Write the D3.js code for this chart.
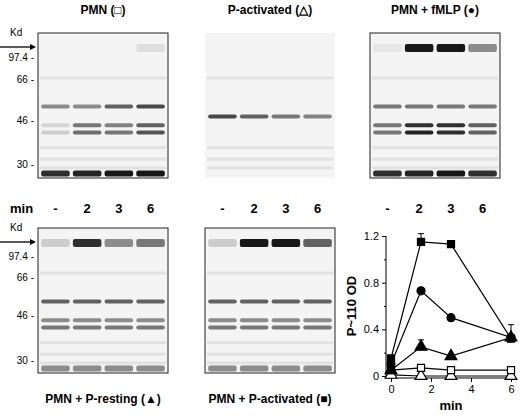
<!DOCTYPE html><html><head><meta charset="utf-8"><script src="https://cdn.jsdelivr.net/npm/d3@7"></script>
<style>body{margin:0;background:#fff}text{font-family:Arial,"Liberation Sans",sans-serif}</style></head><body><svg id="c" width="520" height="416"></svg>
<script>
const times=[0,1.5,3,6];
const fillSq=[0.15,1.15,1.13,0.32];
const circ=[0.10,0.73,0.50,0.33];
const fillTri=[0.05,0.25,0.17,0.33];
const openSq=[0.05,0.07,0.05,0.05];
const openTri=[0.01,0.0,0.0,0.0];
const yTicks=[0,0.4,0.8,1.2];
const yMinor=[0.2,0.6,1.0];
const xTicks=[0,2,4,6];
const laneLabels=["-","2","3","6"];
const kdTicks=["97.4","66","46","30"];
const bandPos=[0.51,0.64,0.69,0.965,0.11];
const gelPanels=[
 {t:"PMN (\u25A1)",x:38,y:33,title:"top",b:[[0.5,0.5,0.7,0.8],[0.15,0.6,0.55,0.7],[0.2,0.65,0.6,0.75],[0.9,0.95,1,1],[0,0,0,0.1]]},
 {t:"P-activated (\u25B3)",x:205,y:33,title:"top",p0:0.58,b:[[0.8,0.7,0.6,0.55],[0,0,0,0],[0,0,0,0],[0,0,0,0],[0,0,0,0]]},
 {t:"PMN + fMLP (\u25CF)",x:370,y:33,title:"top",b:[[0.6,0.6,0.6,0.6],[0.6,0.9,0.9,0.7],[0.6,0.95,0.9,0.7],[0.9,0.95,1,0.9],[0.05,1,1,0.5]]},
 {t:"PMN + P-resting (\u25B2)",x:38,y:228,title:"bot",b:[[0.7,0.7,0.7,0.7],[0.5,0.5,0.5,0.5],[0.6,0.6,0.6,0.6],[0.5,0.5,0.5,0.5],[0.2,0.9,0.5,0.6]]},
 {t:"PMN + P-activated (\u25A0)",x:205,y:228,title:"bot",b:[[0.7,0.7,0.7,0.7],[0.5,0.5,0.5,0.5],[0.6,0.6,0.6,0.6],[0.5,0.5,0.5,0.5],[0.2,1,1,0.7]]}
];
const svg=d3.select("#c");
const W=130,H=145;
const lane=d3.scaleBand().domain(laneLabels).range([0,W]).padding(0.1);
gelPanels.forEach((p,i)=>{
 const g=svg.append("g").attr("transform",`translate(${p.x},${p.y})`);
 g.append("rect").attr("width",W).attr("height",H).attr("fill","#f4f4f4").attr("stroke",i==1?"none":"#222");
 [0.3,0.78,0.86,0.92].forEach(f=>g.append("rect").attr("x",2).attr("width",W-4).attr("y",f*H).attr("height",3).attr("fill","#e2e2e2"));
 p.b.forEach((row,bi)=>row.forEach((v,li)=>{
   if(v<=0)return;
   const pos=(bi==0&&p.p0)?p.p0:bandPos[bi];
   g.append("rect").attr("x",lane(laneLabels[li])).attr("width",lane.bandwidth())
    .attr("y",pos*H-(bi==4?5:2.5)).attr("height",bi==4?8:(bi==3?6:4)).attr("rx",2)
    .attr("fill",d3.interpolateGreys(0.15+v*0.85)).attr("opacity",0.9);
 }));
 const ty=p.title=="top"?p.y-19:p.y+H+30;
 svg.append("text").attr("x",p.x+W/2).attr("y",ty).attr("text-anchor","middle").attr("font-size",12).attr("font-weight","bold").text(p.t);
 if(i==0||i==3){
   const kdY=i==0?[0.165,0.32,0.6,0.9]:[0.19,0.34,0.6,0.91];
   svg.append("text").attr("x",10).attr("y",p.y+3).attr("font-size",10).text("Kd");
   svg.append("line").attr("x1",0).attr("x2",30).attr("y1",p.y+14).attr("y2",p.y+14).attr("stroke","#000").attr("stroke-width",1.3);
   svg.append("path").attr("d",`M30,${p.y+11}L36,${p.y+14}L30,${p.y+17}Z`);
   kdTicks.forEach((k,j)=>svg.append("text").attr("x",p.x-4).attr("y",p.y+kdY[j]*H+4).attr("text-anchor","end").attr("font-size",10).text(k+" -"));
 }
});
svg.append("text").attr("x",10).attr("y",213).attr("font-size",13).attr("font-weight","bold").text("min");
[38,205,370].forEach(x0=>laneLabels.forEach(l=>svg.append("text").attr("x",x0+lane(l)+lane.bandwidth()/2).attr("y",213).attr("text-anchor","middle").attr("font-size",13).attr("font-weight","bold").text(l)));
const x=d3.scaleLinear().domain([0,6]).range([391,511]);
const y=d3.scaleLinear().domain([0,1.2]).range([376,236]);
svg.append("g").attr("transform","translate(0,378)").call(d3.axisBottom(x).tickValues(xTicks).tickFormat(d3.format("d")).tickSize(4)).call(g=>g.selectAll("text").attr("font-size",11)).call(g=>g.select(".domain").attr("d","M386,0H514"));
svg.append("g").attr("transform","translate(386,0)").call(d3.axisLeft(y).tickValues(yTicks).tickFormat(d=>d==0?"0":d3.format(".1f")(d)).tickSize(4)).call(g=>g.selectAll("text").attr("font-size",11)).call(g=>g.select(".domain").attr("d","M0,236V378"));
svg.append("g").attr("transform","translate(386,0)").call(d3.axisLeft(y).tickValues(yMinor).tickFormat("").tickSize(2)).call(g=>g.select(".domain").remove());
svg.append("text").attr("x",451).attr("y",410).attr("text-anchor","middle").attr("font-size",13).attr("font-weight","bold").text("min");
svg.append("text").attr("transform","translate(356,306) rotate(-90)").attr("text-anchor","middle").attr("font-size",13).attr("font-weight","bold").text("P~110 OD");
const line=d3.line().x((d,i)=>x(times[i])).y(d=>y(d));
const series=[[openTri,d3.symbolTriangle,"#fff"],[openSq,d3.symbolSquare,"#fff"],[fillTri,d3.symbolTriangle,"#000"],[circ,d3.symbolCircle,"#000"],[fillSq,d3.symbolSquare,"#000"]];
[[fillSq,1,0.07],[fillTri,1,0.06],[circ,3,0.11]].forEach(([s,i,e])=>svg.append("path").attr("d",`M${x(times[i])},${y(s[i])}V${y(s[i]+e)}m-3,0h6`).attr("stroke","#000").attr("fill","none"));
series.forEach(([s,sym,f])=>{
 svg.append("path").attr("d",line(s)).attr("fill","none").attr("stroke","#000").attr("stroke-width",1.2);
 svg.selectAll(null).data(s).join("path").attr("transform",(d,i)=>`translate(${x(times[i])},${y(d)})`)
  .attr("d",d3.symbol(sym,sym==d3.symbolTriangle?60:50)).attr("fill",f).attr("stroke","#000").attr("stroke-width",1.2);
});
</script></body></html>
